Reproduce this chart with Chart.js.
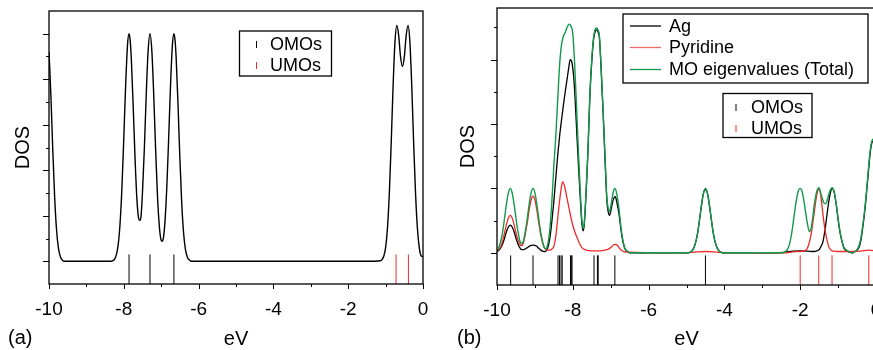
<!DOCTYPE html>
<html>
<head>
<meta charset="utf-8">
<script src="https://cdn.jsdelivr.net/npm/chart.js@4.4.1/dist/chart.umd.min.js"></script>
<style>
  html, body { margin: 0; padding: 0; background: #fff; overflow: hidden; width: 873px; height: 350px; }
  #wrapA { position: absolute; left: 0; top: 0; width: 440px; height: 350px; }
  #wrapB { position: absolute; left: 440px; top: 0; width: 450px; height: 350px; }
</style>
</head>
<body>
<div id="wrapA"><canvas id="chartA" width="440" height="350"></canvas></div>
<div id="wrapB"><canvas id="chartB" width="450" height="350"></canvas></div>
<script>
// tick labels shared by both panels
const xTicks = [-10, -8, -6, -4, -2, 0];

// panel (a): DOS curve [eV, DOS] and MO sticks
const aDos = [
  [-10.00,4.60],[-9.95,3.66],[-9.90,2.47],[-9.85,1.43],[-9.80,0.71],[-9.75,0.30],[-9.70,0.11],[-9.65,0.03],[-9.60,0],
  [-8.40,0],[-8.30,0.01],[-8.25,0.04],[-8.20,0.14],[-8.15,0.36],[-8.10,0.83],[-8.05,1.62],[-8.00,2.71],[-7.95,3.88],
  [-7.90,4.76],[-7.86,5.00],[-7.83,4.86],[-7.80,4.47],[-7.75,3.43],[-7.70,2.28],[-7.65,1.37],[-7.60,0.93],[-7.57,0.90],
  [-7.54,0.98],[-7.50,1.52],[-7.45,2.49],[-7.40,3.66],[-7.35,4.62],[-7.30,5.00],[-7.25,4.62],[-7.20,3.66],[-7.15,2.48],
  [-7.10,1.45],[-7.05,0.77],[-7.00,0.46],[-6.97,0.44],[-6.94,0.52],[-6.90,0.86],[-6.85,1.63],[-6.80,2.71],[-6.75,3.88],
  [-6.70,4.76],[-6.66,5.00],[-6.63,4.86],[-6.60,4.47],[-6.55,3.43],[-6.50,2.25],[-6.45,1.26],[-6.40,0.61],[-6.35,0.25],
  [-6.30,0.09],[-6.25,0.03],[-6.20,0],
  [-1.30,0],[-1.15,0.01],[-1.10,0.03],[-1.05,0.11],[-1.00,0.30],[-0.95,0.73],[-0.90,1.50],[-0.85,2.60],[-0.80,3.84],
  [-0.75,4.81],[-0.70,5.18],[-0.65,4.96],[-0.60,4.49],[-0.55,4.28],[-0.50,4.49],[-0.45,4.96],[-0.40,5.18],[-0.35,4.81],
  [-0.30,3.84],[-0.25,2.60],[-0.20,1.50],[-0.15,0.73],[-0.10,0.30],[-0.05,0.12],[0,0.10]
];
const aOmo = [-7.86, -7.30, -6.66];
const aUmo = [-0.72, -0.39];

// panel (b): total, Ag and pyridine DOS [eV, DOS] and MO sticks
const bTotal = [
  [-10.00,0.03],[-9.95,0.085],[-9.90,0.18],[-9.85,0.33],[-9.80,0.54],[-9.75,0.76],[-9.70,0.93],[-9.65,1.00],[-9.60,0.93],
  [-9.55,0.76],[-9.50,0.54],[-9.45,0.34],[-9.40,0.19],[-9.35,0.14],[-9.30,0.19],[-9.25,0.34],[-9.20,0.54],[-9.15,0.76],
  [-9.10,0.93],[-9.05,1.00],[-9.00,0.93],[-8.95,0.76],[-8.90,0.54],[-8.85,0.33],[-8.80,0.18],[-8.76,0.09],[-8.72,0.06],
  [-8.68,0.09],[-8.64,0.20],[-8.60,0.40],[-8.55,0.82],[-8.50,1.35],[-8.45,1.80],[-8.40,2.35],[-8.35,2.90],[-8.30,3.22],
  [-8.25,3.36],[-8.20,3.42],[-8.15,3.50],[-8.10,3.55],[-8.05,3.52],[-8.00,3.40],[-7.95,2.92],[-7.90,2.25],[-7.85,1.55],
  [-7.80,0.92],[-7.76,0.50],[-7.73,0.38],[-7.70,0.45],[-7.65,0.95],[-7.60,1.60],[-7.55,2.45],[-7.50,3.00],[-7.45,3.35],
  [-7.40,3.48],[-7.37,3.49],[-7.33,3.45],[-7.30,3.38],[-7.25,2.85],[-7.20,2.20],[-7.15,1.50],[-7.10,0.85],[-7.05,0.66],
  [-7.03,0.64],[-6.98,0.78],[-6.93,0.95],[-6.88,1.00],[-6.83,0.88],[-6.78,0.68],[-6.73,0.40],[-6.68,0.20],[-6.63,0.08],
  [-6.56,0.02],[-6.50,0],
  [-4.95,0],[-4.90,0.01],[-4.85,0.035],[-4.80,0.085],[-4.75,0.18],[-4.70,0.33],[-4.65,0.54],[-4.60,0.76],[-4.55,0.93],
  [-4.50,1.00],[-4.45,0.93],[-4.40,0.76],[-4.35,0.54],[-4.30,0.33],[-4.25,0.18],[-4.20,0.085],[-4.15,0.035],[-4.10,0.01],
  [-4.05,0],
  [-2.45,0],[-2.40,0.02],[-2.35,0.04],[-2.30,0.10],[-2.25,0.22],[-2.20,0.40],[-2.15,0.62],[-2.10,0.82],[-2.05,0.96],
  [-2.00,1.00],[-1.95,0.95],[-1.90,0.80],[-1.85,0.60],[-1.80,0.42],[-1.76,0.33],[-1.72,0.36],[-1.68,0.50],[-1.62,0.78],
  [-1.56,0.96],[-1.50,1.01],[-1.46,0.93],[-1.42,0.85],[-1.38,0.78],[-1.34,0.76],[-1.30,0.79],[-1.25,0.90],[-1.20,0.98],
  [-1.16,1.01],[-1.10,0.94],[-1.05,0.76],[-1.00,0.53],[-0.95,0.33],[-0.90,0.19],[-0.85,0.09],[-0.80,0.05],[-0.70,0.01],
  [-0.62,0],[-0.55,0.02],[-0.50,0.05],[-0.45,0.11],[-0.40,0.22],[-0.35,0.42],[-0.30,0.66],[-0.25,0.96],[-0.20,1.30],
  [-0.15,1.60],[-0.10,1.75],[-0.05,1.77],[0,1.72]
];
const bAg = [
  [-10.00,0.015],[-9.95,0.04],[-9.90,0.08],[-9.85,0.14],[-9.80,0.23],[-9.75,0.33],[-9.70,0.40],[-9.65,0.43],[-9.60,0.40],
  [-9.55,0.33],[-9.50,0.23],[-9.45,0.14],[-9.40,0.08],[-9.35,0.05],[-9.30,0.05],[-9.25,0.06],[-9.20,0.08],[-9.15,0.10],
  [-9.10,0.115],[-9.05,0.12],[-9.00,0.115],[-8.95,0.10],[-8.90,0.07],[-8.85,0.045],[-8.80,0.025],[-8.75,0.02],[-8.72,0.02],
  [-8.68,0.05],[-8.64,0.12],[-8.60,0.25],[-8.55,0.50],[-8.50,0.80],[-8.45,1.15],[-8.40,1.50],[-8.35,1.80],[-8.30,2.05],
  [-8.25,2.28],[-8.20,2.50],[-8.15,2.70],[-8.10,2.90],[-8.07,3.00],[-8.03,2.97],[-7.98,2.75],[-7.94,2.40],[-7.89,1.80],
  [-7.85,1.35],[-7.80,0.82],[-7.76,0.45],[-7.73,0.34],[-7.70,0.42],[-7.65,0.91],[-7.60,1.57],[-7.55,2.42],[-7.50,2.97],
  [-7.45,3.32],[-7.40,3.45],[-7.37,3.46],[-7.33,3.42],[-7.30,3.35],[-7.25,2.82],[-7.20,2.17],[-7.15,1.46],[-7.10,0.80],
  [-7.05,0.60],[-7.03,0.58],[-6.98,0.70],[-6.93,0.83],[-6.88,0.87],[-6.83,0.76],[-6.78,0.60],[-6.73,0.36],[-6.68,0.18],
  [-6.63,0.07],[-6.56,0.02],[-6.50,0],
  [-4.95,0],[-4.90,0.01],[-4.85,0.035],[-4.80,0.085],[-4.75,0.18],[-4.70,0.33],[-4.65,0.54],[-4.60,0.76],[-4.55,0.93],
  [-4.50,0.98],[-4.45,0.93],[-4.40,0.76],[-4.35,0.54],[-4.30,0.33],[-4.25,0.18],[-4.20,0.085],[-4.15,0.035],[-4.10,0.01],
  [-4.05,0],
  [-2.60,0],[-2.40,0.01],[-2.20,0.025],[-2.00,0.03],[-1.80,0.025],[-1.65,0.02],[-1.56,0.03],[-1.50,0.05],[-1.45,0.10],
  [-1.40,0.17],[-1.35,0.34],[-1.30,0.56],[-1.25,0.78],[-1.20,0.94],[-1.16,1.00],[-1.10,0.93],[-1.05,0.75],[-1.00,0.52],
  [-0.95,0.32],[-0.90,0.18],[-0.85,0.08],[-0.80,0.04],[-0.70,0.01],[-0.62,0],[-0.55,0.02],[-0.50,0.04],[-0.45,0.08],
  [-0.40,0.19],[-0.35,0.39],[-0.30,0.63],[-0.25,0.93],[-0.20,1.26],[-0.15,1.57],[-0.10,1.72],[-0.05,1.74],[0,1.69]
];
const bPyridine = [
  [-10.00,0.02],[-9.95,0.05],[-9.90,0.10],[-9.85,0.19],[-9.80,0.31],[-9.75,0.44],[-9.70,0.54],[-9.65,0.58],[-9.60,0.54],
  [-9.55,0.44],[-9.50,0.31],[-9.45,0.20],[-9.40,0.13],[-9.35,0.11],[-9.30,0.16],[-9.25,0.30],[-9.20,0.47],[-9.15,0.67],
  [-9.10,0.82],[-9.05,0.88],[-9.00,0.82],[-8.95,0.67],[-8.90,0.47],[-8.85,0.29],[-8.80,0.16],[-8.75,0.08],[-8.70,0.05],
  [-8.65,0.04],[-8.60,0.04],[-8.55,0.06],[-8.50,0.10],[-8.45,0.25],[-8.40,0.52],[-8.35,0.80],[-8.30,1.02],[-8.27,1.10],
  [-8.22,1.04],[-8.17,0.90],[-8.12,0.75],[-8.07,0.61],[-8.02,0.47],[-7.95,0.33],[-7.89,0.24],[-7.82,0.14],[-7.76,0.08],
  [-7.65,0.04],[-7.50,0.03],[-7.30,0.03],[-7.15,0.04],[-7.05,0.06],[-6.98,0.09],[-6.93,0.12],[-6.88,0.13],[-6.83,0.12],
  [-6.78,0.08],[-6.72,0.04],[-6.65,0.02],[-6.50,0.01],[-5.50,0],[-4.90,0.005],[-4.70,0.015],[-4.50,0.02],[-4.30,0.015],
  [-4.10,0.005],[-3.00,0],[-2.40,0],[-2.20,0.015],[-2.00,0.02],[-1.90,0.03],[-1.85,0.04],[-1.80,0.085],[-1.75,0.18],
  [-1.70,0.33],[-1.65,0.54],[-1.60,0.76],[-1.55,0.93],[-1.50,1.00],[-1.46,0.90],[-1.42,0.70],[-1.38,0.50],[-1.34,0.34],
  [-1.30,0.22],[-1.25,0.10],[-1.20,0.05],[-1.15,0.03],[-1.00,0.02],[-0.70,0.02],[-0.40,0.025],[-0.20,0.04],[0,0.03]
];
const bOmo = [-9.64, -9.05, -8.39, -8.35, -8.31, -8.28, -8.06, -8.04, -8.02, -7.44, -7.35, -7.33, -6.89, -4.50];
const bUmo = [-2.00, -1.51, -1.16, -0.19];

const FONT = '"Liberation Sans", Arial, Helvetica, sans-serif';
const RED = '#ec2a2a';
const GREEN = '#12994a';

const pts = arr => arr.map(p => ({ x: p[0], y: p[1] }));
// each stick: bottom point, top point, then a gap
function sticks(list, y0, y1) {
  const out = [];
  list.forEach(v => { out.push({ x: v, y: y0 }, { x: v, y: y1 }, { x: v, y: null }); });
  return out;
}
function curve(data, color, width, order) {
  return { data: pts(data), borderColor: color, borderWidth: width, pointRadius: 0,
           cubicInterpolationMode: 'monotone', order: order };
}
function stickSet(data, color) {
  return { data: data, borderColor: color, borderWidth: 1, pointRadius: 0, spanGaps: false, order: 5 };
}

// frame, tick marks, titles and legends
const decor = {
  id: 'decor',
  afterDraw(chart, args, o) {
    const { ctx, chartArea: a, scales: { x, y } } = chart;
    ctx.save();
    ctx.strokeStyle = '#000';
    ctx.lineWidth = 1.3;
    ctx.strokeRect(a.left, a.top, a.right - a.left, a.bottom - a.top);
    ctx.lineWidth = 1;
    ctx.beginPath();
    for (let v = 0; v < y.max; v += 0.5) {
      const py = Math.round(y.getPixelForValue(v)) + 0.5;
      const len = Number.isInteger(v) ? 6 : 3;
      ctx.moveTo(a.left - len, py); ctx.lineTo(a.left, py);
    }
    for (let v = x.min; v <= x.max; v += 1) {
      const px = Math.round(x.getPixelForValue(v)) + 0.5;
      const len = v % 2 === 0 ? 5 : 3;
      ctx.moveTo(px, a.bottom); ctx.lineTo(px, a.bottom + len);
    }
    ctx.stroke();

    ctx.fillStyle = '#000';
    ctx.font = '20px ' + FONT;
    ctx.textBaseline = 'middle';
    ctx.textAlign = 'center';
    ctx.fillText('eV', (a.left + a.right) / 2, 339);
    ctx.textAlign = 'left';
    ctx.fillText(o.tag, o.tagX, 338);
    ctx.save();
    ctx.translate(o.dosX, (a.top + a.bottom) / 2);
    ctx.rotate(-Math.PI / 2);
    ctx.textAlign = 'center';
    ctx.fillText('DOS', 0, 0);
    ctx.restore();

    // legend boxes
    ctx.font = '18px ' + FONT;
    o.boxes.forEach(b => {
      ctx.fillStyle = '#fff';
      ctx.fillRect(b.x, b.y, b.w, b.h);
      ctx.lineWidth = 1.3;
      ctx.strokeStyle = '#000';
      ctx.strokeRect(b.x, b.y, b.w, b.h);
      b.rows.forEach(r => {
        ctx.strokeStyle = r.color;
        ctx.lineWidth = r.kind === 'line' ? 1.3 : 1;
        ctx.beginPath();
        if (r.kind === 'line') {
          ctx.moveTo(b.mark, r.y); ctx.lineTo(b.mark + 31, r.y);
        } else {
          ctx.moveTo(b.mark, r.y - 3); ctx.lineTo(b.mark, r.y + 4);
        }
        ctx.stroke();
        ctx.fillStyle = '#000';
        ctx.textAlign = 'left';
        ctx.fillText(r.text, b.text, r.y + 1);
      });
    });
    ctx.restore();
  }
};

function xScale() {
  return {
    type: 'linear', min: -10, max: 0,
    grid: { display: true, drawOnChartArea: false, drawTicks: true, tickLength: 14, tickColor: 'rgba(0,0,0,0)' },
    border: { display: false },
    afterBuildTicks: s => { s.ticks = xTicks.map(v => ({ value: v })); },
    afterFit: s => { s.height = 40; },
    ticks: { color: '#000', font: { family: FONT, size: 19 }, padding: 0, maxRotation: 0, autoSkip: false }
  };
}

new Chart(document.getElementById('chartA'), {
  type: 'line',
  data: {
    datasets: [
      curve(aDos, '#000', 1.4, 1),
      stickSet(sticks(aOmo, -0.5, 0.15), '#000'),
      stickSet(sticks(aUmo, -0.5, 0.15), RED)
    ]
  },
  options: {
    responsive: false, animation: false, events: [],
    layout: { padding: { left: 49, right: 17, top: 11, bottom: 26 } },
    plugins: {
      legend: { display: false }, tooltip: { enabled: false },
      decor: {
        tag: '(a)', tagX: 8, dosX: 23,
        boxes: [{ x: 239.5, y: 31, w: 92, h: 45, mark: 256.5, text: 270,
          rows: [{ kind: 'tick', color: '#000', text: 'OMOs', y: 44 },
                 { kind: 'tick', color: RED, text: 'UMOs', y: 65 }] }]
      }
    },
    scales: { x: xScale(), y: { display: false, min: -0.5, max: 5.5 } }
  },
  plugins: [decor]
});

new Chart(document.getElementById('chartB'), {
  type: 'line',
  data: {
    datasets: [
      curve(bAg, '#000', 1.3, 2),
      curve(bPyridine, RED, 1.3, 1),
      curve(bTotal, GREEN, 1.4, 0),
      stickSet(sticks(bOmo, -0.5, -0.04), '#000'),
      stickSet(sticks(bUmo, -0.5, -0.04), RED)
    ]
  },
  options: {
    responsive: false, animation: false, events: [],
    layout: { padding: { left: 57, right: 14, top: 8, bottom: 25 } },
    plugins: {
      legend: { display: false }, tooltip: { enabled: false },
      decor: {
        tag: '(b)', tagX: 17, dosX: 28,
        boxes: [
          { x: 183, y: 14, w: 245, h: 69, mark: 190, text: 229,
            rows: [{ kind: 'line', color: '#000', text: 'Ag', y: 26 },
                   { kind: 'line', color: '#f06a6a', text: 'Pyridine', y: 47.5 },
                   { kind: 'line', color: GREEN, text: 'MO eigenvalues (Total)', y: 69.5 }] },
          { x: 283, y: 93.5, w: 89, h: 44, mark: 296, text: 311,
            rows: [{ kind: 'tick', color: '#000', text: 'OMOs', y: 107 },
                   { kind: 'tick', color: RED, text: 'UMOs', y: 128 }] }
        ]
      }
    },
    scales: { x: xScale(), y: { display: false, min: -0.5, max: 3.8 } }
  },
  plugins: [decor]
});
</script>
</body>
</html>
